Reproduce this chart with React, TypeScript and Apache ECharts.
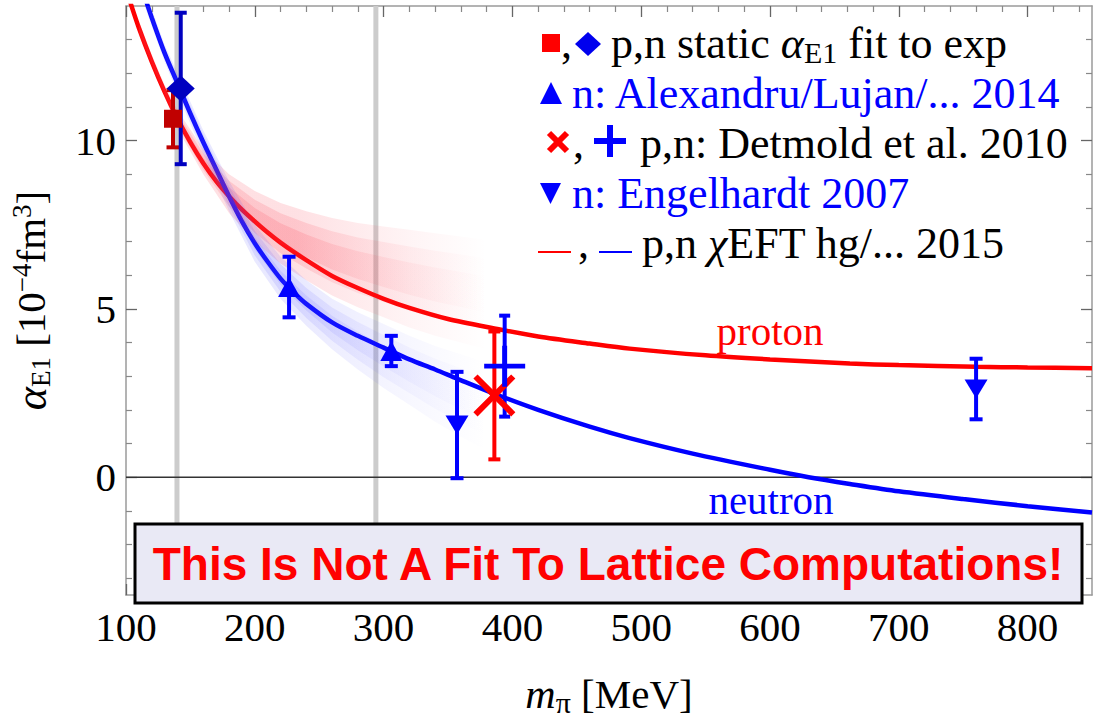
import React, { useEffect, useRef } from "react";
import * as echarts from "echarts";

const X_MIN = 100;
const X_MAX = 850;
const Y_MIN = -3.5;
const Y_MAX = 14;

const xMajorTicks = [100, 200, 300, 400, 500, 600, 700, 800];
const xMinorTicks = [120, 140, 160, 180, 220, 240, 260, 280, 320, 340, 360, 380, 420, 440, 460, 480, 520, 540, 560, 580, 620, 640, 660, 680, 720, 740, 760, 780, 820, 840];
const yMajorTicks = [0, 5, 10];
const yMinorTicks = [-3, -2, -1, 1, 2, 3, 4, 6, 7, 8, 9, 11, 12, 13];

const referenceMasses = [139.57, 294];

const protonCurveMass = [103, 110, 120, 130, 140, 150, 160, 170, 180, 190, 200, 210, 220, 230, 240, 260, 280, 300, 320, 350, 386, 420, 460, 491, 550, 600, 662, 700, 760, 800, 850];
const protonCurveAlpha = [14.15, 13.35, 12.35, 11.45, 10.65, 9.95, 9.33, 8.8, 8.35, 7.95, 7.6, 7.27, 6.97, 6.7, 6.45, 5.98, 5.62, 5.3, 5.03, 4.7, 4.42, 4.18, 3.97, 3.82, 3.62, 3.5, 3.38, 3.33, 3.28, 3.26, 3.24];

const neutronCurveMass = [116, 120, 130, 140, 150, 160, 170, 180, 190, 200, 210, 220, 230, 240, 260, 280, 300, 320, 340, 357, 386, 420, 460, 491, 540, 600, 630, 662, 700, 750, 800, 850];
const neutronCurveAlpha = [14.1, 13.65, 12.6, 11.7, 10.8, 9.95, 9.15, 8.35, 7.6, 6.95, 6.4, 5.9, 5.5, 5.15, 4.6, 4.2, 3.85, 3.5, 3.2, 2.93, 2.48, 2.0, 1.5, 1.16, 0.7, 0.22, 0.0, -0.2, -0.42, -0.65, -0.86, -1.05];

const bandMass = [110, 120, 130, 140, 160, 180, 200, 220, 240, 260, 280, 300, 320, 340, 360, 380];
const protonBandLow = [13.15, 12.2, 11.3, 10.35, 9.0, 7.85, 7.0, 6.35, 5.85, 5.4, 5.05, 4.75, 4.45, 4.2, 4.0, 3.8];
const protonBandHigh = [13.55, 12.55, 11.65, 10.9, 9.75, 9.0, 8.5, 8.15, 7.9, 7.7, 7.55, 7.45, 7.35, 7.25, 7.15, 7.05];
const neutronBandLow = [14.5, 13.4, 12.35, 11.4, 9.6, 7.9, 6.4, 5.3, 4.5, 3.8, 3.2, 2.65, 2.15, 1.65, 1.2, 0.8];
const neutronBandHigh = [15.0, 13.9, 12.85, 12.0, 10.3, 8.8, 7.5, 6.55, 5.85, 5.3, 4.9, 4.55, 4.2, 3.9, 3.65, 3.4];

// static fit to experiment: proton (square), neutron (diamond)
const expProtonMass = [136.5];
const expProtonAlpha = [10.65];
const expProtonErr = [0.85];
const expNeutronMass = [142.5];
const expNeutronAlpha = [11.55];
const expNeutronErr = [2.25];
// Alexandru/Lujan 2014 (neutron)
const alexMass = [226.6, 306];
const alexAlpha = [5.65, 3.75];
const alexErr = [0.9, 0.45];
// Detmold 2010: proton (x), neutron (+)
const detmoldProtonMass = [386];
const detmoldProtonAlpha = [2.43];
const detmoldProtonErr = [1.9];
const detmoldNeutronMass = [394];
const detmoldNeutronAlpha = [3.3];
const detmoldNeutronErr = [1.5];
// Engelhardt 2007 (neutron)
const engelMass = [357, 760];
const engelAlpha = [1.55, 2.62];
const engelErr = [1.58, 0.9];

const SERIF = "'Liberation Serif', 'Times New Roman', serif";
const SANS = "'Liberation Sans', Arial, sans-serif";

const CROSS_PATH = "path://M0,2 L2,0 L10,8 L18,0 L20,2 L12,10 L20,18 L18,20 L10,12 L2,20 L0,18 L8,10 Z";
const PLUS_PATH = "path://M8.8,0 L11.2,0 L11.2,8.8 L20,8.8 L20,11.2 L11.2,11.2 L11.2,20 L8.8,20 L8.8,11.2 L0,11.2 L0,8.8 L8.8,8.8 Z";

function bandSeries(lo: number[], hi: number[], rgb: string, alpha: number, z: number) {
  return {
    type: "custom",
    coordinateSystem: "cartesian2d",
    silent: true,
    clip: true,
    z,
    data: [[bandMass[0], lo[0]]],
    renderItem: (_params: any, api: any) => {
      const levels = [1, 0.66, 0.33];
      const children: any[] = [];
      levels.forEach((k) => {
        const pts: number[][] = [];
        for (let i = 0; i < bandMass.length; i++) {
          const mid = (lo[i] + hi[i]) / 2;
          pts.push(api.coord([bandMass[i], mid + k * (hi[i] - mid)]));
        }
        for (let i = bandMass.length - 1; i >= 0; i--) {
          const mid = (lo[i] + hi[i]) / 2;
          pts.push(api.coord([bandMass[i], mid - k * (mid - lo[i])]));
        }
        children.push({
          type: "polygon",
          shape: { points: pts },
          style: {
            fill: new echarts.graphic.LinearGradient(0, 0, 1, 0, [
              { offset: 0, color: `rgba(${rgb},${alpha})` },
              { offset: 0.45, color: `rgba(${rgb},${alpha})` },
              { offset: 0.78, color: `rgba(${rgb},${alpha * 0.35})` },
              { offset: 1, color: `rgba(${rgb},0)` },
            ]),
          },
        });
      });
      return { type: "group", children };
    },
  };
}

function errorBarSeries(mass: number[], val: number[], err: number[], color: string, capHalf: number, z: number) {
  return {
    type: "custom",
    coordinateSystem: "cartesian2d",
    silent: true,
    clip: true,
    z,
    data: mass.map((m, i) => [m, val[i] - err[i], val[i] + err[i]]),
    encode: { x: 0, y: [1, 2] },
    renderItem: (_params: any, api: any) => {
      const m = api.value(0);
      const pLo = api.coord([m, api.value(1)]);
      const pHi = api.coord([m, api.value(2)]);
      const s = { stroke: color, lineWidth: 4 };
      return {
        type: "group",
        children: [
          { type: "line", shape: { x1: pLo[0], y1: pLo[1], x2: pHi[0], y2: pHi[1] }, style: s },
          { type: "line", shape: { x1: pLo[0] - capHalf, y1: pLo[1], x2: pLo[0] + capHalf, y2: pLo[1] }, style: s },
          { type: "line", shape: { x1: pHi[0] - capHalf, y1: pHi[1], x2: pHi[0] + capHalf, y2: pHi[1] }, style: s },
        ],
      };
    },
  };
}

function markerSeries(mass: number[], val: number[], symbol: string, size: any, color: string, z: number, rotate = 0) {
  return {
    type: "scatter",
    silent: true,
    z,
    symbol,
    symbolSize: size,
    symbolRotate: rotate,
    itemStyle: { color, opacity: 1 },
    data: mass.map((m, i) => [m, val[i]]),
  };
}

function curveSeries(mass: number[], val: number[], color: string, z: number) {
  return {
    type: "line",
    silent: true,
    z,
    smooth: 0.3,
    symbol: "none",
    clip: true,
    lineStyle: { color, width: 4.5 },
    data: mass.map((m, i) => [m, val[i]]),
  };
}

const frameLine = { show: true, onZero: false, lineStyle: { color: "#9a9a9a", width: 1.5 } };
const majorTick = (vals: number[]) => ({ show: true, inside: true, length: 11, customValues: vals, lineStyle: { color: "#666", width: 1.3 } });
const minorTick = (vals: number[]) => ({ show: true, inside: true, length: 6, customValues: vals, lineStyle: { color: "#888", width: 1.2 } });

function legendText(x: number, y: number, text: string, color: string, rich?: any) {
  return {
    type: "text",
    x,
    y,
    z: 100,
    style: {
      text,
      fill: color,
      fontSize: 44,
      fontFamily: SERIF,
      align: "left",
      verticalAlign: "middle",
      rich,
    },
  };
}

export default function App() {
  const ref = useRef<HTMLDivElement>(null);

  useEffect(() => {
    if (!ref.current) return;
    const chart = echarts.init(ref.current, undefined, { renderer: "svg" });

    const richBase = { fontSize: 44, fontFamily: SERIF, lineHeight: 48 };

    const option: any = {
      animation: false,
      backgroundColor: "#ffffff",
      grid: { left: 124, top: 6, width: 968, height: 599, containLabel: false },
      xAxis: [
        {
          type: "value",
          min: X_MIN,
          max: X_MAX,
          position: "bottom",
          axisLine: frameLine,
          axisTick: majorTick(xMajorTicks),
          axisLabel: { customValues: xMajorTicks, fontSize: 41, fontFamily: SERIF, color: "#000", margin: 11 },
          splitLine: { show: false },
          name: "{m|m}{p|π} {n|[MeV]}",
          nameLocation: "middle",
          nameGap: 76,
          nameTextStyle: {
            fontSize: 41,
            fontFamily: SERIF,
            color: "#000",
            rich: {
              m: { fontSize: 42, fontFamily: SERIF, fontStyle: "italic", lineHeight: 46 },
              p: { fontSize: 30, fontFamily: SERIF, verticalAlign: "bottom", lineHeight: 30 },
              n: { fontSize: 41, fontFamily: SERIF, lineHeight: 46 },
            },
          },
        },
        {
          type: "value", min: X_MIN, max: X_MAX, position: "bottom",
          axisLine: { show: false, onZero: false }, axisTick: minorTick(xMinorTicks), axisLabel: { show: false }, splitLine: { show: false },
        },
        {
          type: "value", min: X_MIN, max: X_MAX, position: "top",
          axisLine: frameLine, axisTick: majorTick(xMajorTicks), axisLabel: { show: false }, splitLine: { show: false },
        },
        {
          type: "value", min: X_MIN, max: X_MAX, position: "top",
          axisLine: { show: false, onZero: false }, axisTick: minorTick(xMinorTicks), axisLabel: { show: false }, splitLine: { show: false },
        },
      ],
      yAxis: [
        {
          type: "value",
          min: Y_MIN,
          max: Y_MAX,
          position: "left",
          axisLine: frameLine,
          axisTick: majorTick(yMajorTicks),
          axisLabel: { customValues: yMajorTicks, fontSize: 41, fontFamily: SERIF, color: "#000", margin: 10 },
          splitLine: { show: false },
          name: "{a|α}{s|E1} {n|[10}{p|−4}{n|fm}{p|3}{n|]}",
          nameLocation: "middle",
          nameRotate: 90,
          nameGap: 72,
          nameTextStyle: {
            fontSize: 41,
            fontFamily: SERIF,
            color: "#000",
            rich: {
              a: { fontSize: 44, fontFamily: SERIF, fontStyle: "italic", lineHeight: 46 },
              s: { fontSize: 27, fontFamily: SERIF, verticalAlign: "bottom", lineHeight: 27 },
              p: { fontSize: 27, fontFamily: SERIF, verticalAlign: "top", lineHeight: 27 },
              n: { fontSize: 41, fontFamily: SERIF, lineHeight: 46 },
            },
          },
        },
        {
          type: "value", min: Y_MIN, max: Y_MAX, position: "left",
          axisLine: { show: false, onZero: false }, axisTick: minorTick(yMinorTicks), axisLabel: { show: false }, splitLine: { show: false },
        },
        {
          type: "value", min: Y_MIN, max: Y_MAX, position: "right",
          axisLine: frameLine, axisTick: majorTick(yMajorTicks), axisLabel: { show: false }, splitLine: { show: false },
        },
        {
          type: "value", min: Y_MIN, max: Y_MAX, position: "right",
          axisLine: { show: false, onZero: false }, axisTick: minorTick(yMinorTicks), axisLabel: { show: false }, splitLine: { show: false },
        },
      ],
      series: [
        ...referenceMasses.map((m) => ({
          type: "line",
          silent: true,
          z: 1,
          symbol: "none",
          lineStyle: { color: "#cccccc", width: 5 },
          data: [[m, Y_MIN], [m, Y_MAX]],
        })),
        {
          type: "line",
          silent: true,
          z: 1,
          symbol: "none",
          lineStyle: { color: "#333333", width: 1.5 },
          data: [[X_MIN, 0], [X_MAX, 0]],
        },
        curveSeries(protonCurveMass, protonCurveAlpha, "#ff0000", 3),
        curveSeries(neutronCurveMass, neutronCurveAlpha, "#0000ff", 3),
        bandSeries(protonBandLow, protonBandHigh, "250,50,70", 0.15, 4),
        bandSeries(neutronBandLow, neutronBandHigh, "70,70,255", 0.12, 4),
        errorBarSeries(expProtonMass, expProtonAlpha, expProtonErr, "#c00000", 6.5, 5),
        errorBarSeries(expNeutronMass, expNeutronAlpha, expNeutronErr, "#0000c0", 6, 5),
        errorBarSeries(alexMass, alexAlpha, alexErr, "#0000ff", 6.5, 5),
        errorBarSeries(engelMass, engelAlpha, engelErr, "#0000ff", 6.5, 5),
        errorBarSeries(detmoldProtonMass, detmoldProtonAlpha, detmoldProtonErr, "#ff0000", 6, 5),
        errorBarSeries(detmoldNeutronMass, detmoldNeutronAlpha, detmoldNeutronErr, "#0000ff", 5.5, 5),
        markerSeries(expProtonMass, expProtonAlpha, "rect", [18, 18], "#c00000", 6),
        markerSeries(expNeutronMass, expNeutronAlpha, "diamond", [28, 26], "#0000c0", 6),
        markerSeries(alexMass, alexAlpha, "triangle", [22, 20], "#0000ff", 6),
        markerSeries(engelMass, engelAlpha, "triangle", [23, 19], "#0000ff", 6, 180),
        markerSeries(detmoldProtonMass, detmoldProtonAlpha, CROSS_PATH, [42, 42], "#ff0000", 6),
        markerSeries(detmoldNeutronMass, detmoldNeutronAlpha, PLUS_PATH, [41, 41], "#0000ff", 6),
      ],
      graphic: [
        // legend line 1
        { type: "rect", z: 100, shape: { x: 542, y: 34, width: 18, height: 18 }, style: { fill: "#ff0000" } },
        legendText(561, 43, ",", "#000"),
        { type: "polygon", z: 100, shape: { points: [[588, 32], [601, 44], [588, 56], [575, 44]] }, style: { fill: "#0000ee" } },
        legendText(611, 43, "{t|p,n static }{a|α}{s|E1}{t| fit to exp}", "#000", {
          t: richBase,
          a: { ...richBase, fontStyle: "italic" },
          s: { fontSize: 30, fontFamily: SERIF, verticalAlign: "bottom", lineHeight: 28 },
        }),
        // legend line 2
        { type: "polygon", z: 100, shape: { points: [[540, 104], [562, 104], [551, 82]] }, style: { fill: "#0000ff" } },
        legendText(572, 93, "n: Alexandru/Lujan/... 2014", "#0000ff"),
        // legend line 3
        { type: "line", z: 100, shape: { x1: 549, y1: 133, x2: 567, y2: 151 }, style: { stroke: "#ff0000", lineWidth: 6 } },
        { type: "line", z: 100, shape: { x1: 567, y1: 133, x2: 549, y2: 151 }, style: { stroke: "#ff0000", lineWidth: 6 } },
        legendText(573, 143, ",", "#000"),
        { type: "line", z: 100, shape: { x1: 594, y1: 141, x2: 626, y2: 141 }, style: { stroke: "#0000ff", lineWidth: 6 } },
        { type: "line", z: 100, shape: { x1: 610, y1: 125, x2: 610, y2: 157 }, style: { stroke: "#0000ff", lineWidth: 6 } },
        legendText(640, 143, "p,n: Detmold et al. 2010", "#000"),
        // legend line 4
        { type: "polygon", z: 100, shape: { points: [[540, 183], [561, 183], [550.5, 204]] }, style: { fill: "#0000ff" } },
        legendText(572, 193, "n: Engelhardt 2007", "#0000ff"),
        // legend line 5
        { type: "line", z: 100, shape: { x1: 538, y1: 252, x2: 571, y2: 252 }, style: { stroke: "#ff0000", lineWidth: 2 } },
        legendText(578, 243, ",", "#000"),
        { type: "line", z: 100, shape: { x1: 599, y1: 252, x2: 632, y2: 252 }, style: { stroke: "#0000ff", lineWidth: 2 } },
        legendText(642, 243, "{t|p,n }{c|χ}{t|EFT hg/... 2015}", "#000", {
          t: richBase,
          c: { ...richBase, fontStyle: "italic" },
        }),
        // curve labels
        { type: "text", z: 100, x: 770, y: 331, style: { text: "proton", fill: "#ff0000", fontSize: 41, fontFamily: SERIF, align: "center", verticalAlign: "middle" } },
        { type: "text", z: 100, x: 771, y: 500, style: { text: "neutron", fill: "#0000ff", fontSize: 41, fontFamily: SERIF, align: "center", verticalAlign: "middle" } },
        // disclaimer box
        { type: "rect", z: 100, shape: { x: 135, y: 524, width: 947, height: 79 }, style: { fill: "#e9e9f5", stroke: "#000000", lineWidth: 3 } },
        {
          type: "text", z: 101, x: 608, y: 564,
          style: { text: "This Is Not A Fit To Lattice Computations!", fill: "#ff0000", fontSize: 46, fontWeight: "bold", fontFamily: SANS, align: "center", verticalAlign: "middle" },
        },
      ],
    };

    chart.setOption(option);
    return () => chart.dispose();
  }, []);

  return <div ref={ref} style={{ position: "fixed", left: 0, top: 0, width: 1093, height: 722, background: "#fff" }} />;
}
